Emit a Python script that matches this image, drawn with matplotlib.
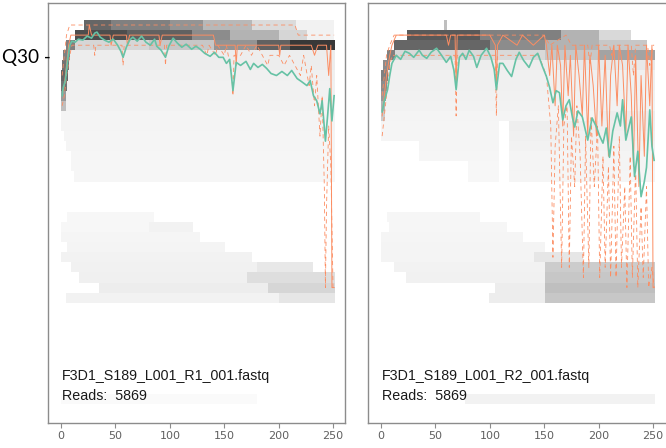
import matplotlib.pyplot as plt

# === DATA ===
FILES = ["F3D1_S189_L001_R1_001.fastq", "F3D1_S189_L001_R2_001.fastq"]
READS = [5869, 5869]
X_TICKS = [0, 50, 100, 150, 200, 250]

# heat tiles: (quality score, first cycle, last cycle, shade 0..1)
R1_TILES = [
    (38, 22, 45, 0.60), (38, 46, 100, 0.50), (38, 101, 130, 0.42), (38, 131, 175, 0.28),
    (38, 176, 215, 0.14), (38, 216, 250, 0.05),
    (37, 13, 60, 0.70), (37, 61, 120, 0.62), (37, 121, 155, 0.45), (37, 156, 200, 0.30),
    (37, 201, 226, 0.16), (37, 227, 250, 0.05),
    (36, 5, 12, 0.50), (36, 13, 80, 0.16), (36, 81, 140, 0.22), (36, 141, 180, 0.42),
    (36, 181, 210, 0.62), (36, 211, 251, 0.78),
    (35, 2, 8, 0.50), (35, 9, 251, 0.07),
    (34, 1, 7, 0.55), (34, 8, 251, 0.07),
    (33, 0, 6, 0.60), (33, 7, 251, 0.06),
    (32, 0, 5, 0.55), (32, 6, 251, 0.055),
    (31, 0, 4, 0.40), (31, 5, 251, 0.055),
    (30, 0, 4, 0.25), (30, 5, 251, 0.05),
    (29, 0, 251, 0.045), (28, 0, 251, 0.045), (27, 3, 251, 0.04), (26, 5, 251, 0.04),
    (25, 10, 251, 0.035), (24, 10, 251, 0.035), (23, 12, 251, 0.035),
    (19, 6, 85, 0.03),
    (18, 0, 80, 0.03), (18, 81, 121, 0.05),
    (17, 0, 127, 0.04),
    (16, 6, 150, 0.045),
    (15, 0, 175, 0.05),
    (14, 10, 180, 0.055), (14, 181, 231, 0.09),
    (13, 17, 170, 0.06), (13, 171, 251, 0.13),
    (12, 35, 190, 0.07), (12, 191, 251, 0.16),
    (11, 5, 200, 0.05), (11, 201, 251, 0.10),
    (1, 0, 180, 0.02),
]
R2_TILES = [
    (38, 58, 60, 0.25),
    (37, 24, 90, 0.65), (37, 91, 165, 0.50), (37, 166, 200, 0.30), (37, 201, 229, 0.15),
    (36, 12, 100, 0.60), (36, 101, 150, 0.45), (36, 151, 200, 0.30), (36, 201, 244, 0.22),
    (35, 6, 12, 0.50), (35, 13, 150, 0.15), (35, 151, 200, 0.22), (35, 201, 251, 0.36),
    (34, 2, 8, 0.45), (34, 9, 160, 0.07), (34, 161, 251, 0.09),
    (33, 0, 6, 0.50), (33, 7, 251, 0.06),
    (32, 0, 5, 0.45), (32, 6, 251, 0.06),
    (31, 0, 4, 0.40), (31, 5, 251, 0.055),
    (30, 0, 3, 0.30), (30, 4, 251, 0.05),
    (29, 0, 3, 0.20), (29, 4, 200, 0.045), (29, 201, 251, 0.07),
    (28, 0, 108, 0.04), (28, 118, 251, 0.065),
    (27, 0, 108, 0.04), (27, 118, 251, 0.06),
    (26, 35, 108, 0.04), (26, 118, 251, 0.05),
    (25, 35, 108, 0.035), (25, 118, 251, 0.045),
    (24, 80, 108, 0.03), (24, 118, 251, 0.045),
    (23, 80, 108, 0.03), (23, 118, 251, 0.04),
    (19, 6, 90, 0.035),
    (18, 8, 115, 0.035),
    (17, 0, 130, 0.04),
    (16, 0, 150, 0.045),
    (15, 0, 140, 0.045), (15, 141, 185, 0.10),
    (14, 12, 150, 0.05), (14, 151, 251, 0.20),
    (13, 23, 150, 0.055), (13, 151, 251, 0.22),
    (12, 105, 150, 0.07), (12, 151, 251, 0.25),
    (11, 100, 150, 0.07), (11, 151, 251, 0.22),
    (1, 78, 251, 0.05),
]

# R1 mean quality
R1_MEAN_C = [1, 2, 4, 6, 8, 10, 13, 16, 20, 24, 28, 31, 33, 36, 40, 44, 48, 52, 55, 57,
             60, 63, 66, 70, 74, 78, 82, 86, 88, 92, 96, 99, 103, 107, 111, 115, 120, 124,
             128, 132, 137, 141, 145, 149, 152, 155, 158, 161, 165, 170, 174, 177, 181,
             185, 189, 193, 198, 203, 208, 212, 217, 221, 226, 229, 232, 235, 238, 240,
             243, 245, 247, 249, 251]
R1_MEAN_Q = [31.0, 31.8, 32.5, 34.5, 36.0, 36.4, 36.3, 36.6, 36.5, 36.9, 36.7, 37.2, 37.3,
             36.8, 36.5, 36.3, 36.6, 36.0, 35.4, 34.8, 35.8, 36.5, 36.8, 36.4, 36.9, 36.3,
             36.0, 36.6, 35.9, 35.5, 34.8, 35.9, 36.7, 36.2, 35.8, 36.1, 35.6, 35.9, 35.6,
             35.2, 34.9, 35.3, 34.8, 34.8, 34.2, 34.6, 31.5, 34.3, 34.0, 34.4, 33.6, 34.2,
             33.8, 34.1, 33.7, 33.2, 33.0, 33.4, 33.0, 33.5, 32.7, 32.4, 32.0, 32.5, 31.0,
             30.5, 29.2, 30.5, 26.5, 29.0, 31.7, 28.5, 31.0]
# R1 median
R1_MED_C = [1, 3, 5, 7, 9, 25, 26, 28, 45, 46, 48, 60, 61, 63, 90, 91, 93, 140, 142, 160,
            161, 162, 200, 201, 202, 230, 233, 236, 238, 244, 246, 248, 249, 251]
R1_MED_Q = [31, 32, 34, 36, 37, 37, 38, 37, 37, 36, 37, 37, 36, 37, 37, 36, 37, 37, 36, 36,
            34, 36, 36, 35, 36, 36, 35, 36, 36, 36, 33, 36, 12, 12]
# R1 upper quartile
R1_Q75_C = [1, 3, 5, 8, 215, 218, 251]
R1_Q75_Q = [33, 35, 37, 38, 38, 37, 37]
# R1 lower quartile
R1_Q25_C = [1, 3, 5, 8, 10, 30, 31, 32, 56, 57, 58, 95, 96, 97, 130, 134, 136, 142, 144,
            150, 152, 157, 158, 159, 165, 170, 175, 180, 185, 190, 192, 200, 205, 210,
            215, 220, 223, 228, 230, 233, 235, 238, 240, 242, 243, 244, 246, 248, 250, 251]
R1_Q25_Q = [30, 31, 33, 35, 36, 36, 35, 36, 36, 34, 36, 36, 34, 36, 36, 35, 36, 35, 36,
            35, 36, 33, 31, 35, 35, 36, 35, 36, 35, 34, 35, 35, 34, 35, 34, 33, 35, 32, 34,
            30, 33, 27, 31, 22, 12, 20, 28, 24, 12, 12]

# R2 mean quality
R2_MEAN_C = [1, 3, 6, 8, 10, 14, 18, 22, 26, 30, 35, 38, 42, 46, 51, 55, 60, 64, 67, 69,
             72, 75, 78, 81, 85, 88, 92, 97, 101, 104, 106, 109, 112, 116, 120, 124, 127,
             131, 136, 140, 144, 148, 152, 155, 158, 161, 164, 167, 170, 173, 176, 178,
             181, 185, 188, 190, 194, 198, 201, 204, 207, 210, 213, 217, 220, 222, 225,
             228, 230, 233, 236, 239, 242, 244, 247, 249, 251]
R2_MEAN_Q = [29.4, 30.5, 31.6, 33.0, 34.2, 35.0, 34.6, 35.4, 35.2, 34.8, 35.5, 35.0, 34.7,
             35.3, 35.7, 35.1, 34.3, 34.9, 33.5, 31.6, 34.8, 35.2, 34.6, 35.5, 34.9, 33.8,
             35.0, 35.7, 34.8, 33.6, 31.6, 34.2, 34.2, 33.5, 32.9, 34.6, 35.3, 34.5, 33.8,
             34.8, 35.2, 34.0, 32.9, 31.8, 30.3, 31.5, 31.3, 28.6, 30.0, 30.6, 28.8, 27.9,
             29.5, 28.9, 27.5, 26.6, 28.8, 27.9, 27.0, 26.3, 27.8, 24.9, 27.5, 29.3, 28.0,
             30.6, 26.6, 28.0, 28.9, 23.0, 25.5, 21.0, 22.5, 23.9, 29.6, 26.0, 24.6]
# R2 median
R2_MED_C = [1, 3, 5, 8, 10, 14, 60, 62, 64, 68, 69, 70, 100, 105, 106, 107, 112, 125, 130,
            140, 150, 152, 155, 157, 160, 162, 165, 167, 169, 172, 174, 177, 179, 182, 185,
            187, 190, 192, 195, 198, 200, 203, 206, 209, 211, 214, 217, 219, 222, 225, 227,
            230, 232, 234, 237, 239, 242, 244, 247, 249, 250, 251]
R2_MED_Q = [29, 31, 33, 35, 36, 37, 37, 36, 37, 37, 32, 37, 37, 36, 32, 36, 37, 36, 37,
            36, 37, 36, 33, 36, 30, 36, 34, 28, 36, 31, 35, 27, 36, 33, 29, 36, 27, 35, 32,
            27, 36, 28, 35, 25, 33, 36, 30, 36, 34, 27, 36, 31, 24, 35, 22, 33, 25, 36, 30,
            36, 12, 12]
# R2 upper quartile
R2_Q75_C = [1, 3, 5, 8, 12, 150, 155, 170, 175, 190, 192, 194, 210, 212, 214, 230, 232,
            234, 245, 247, 250, 251]
R2_Q75_Q = [31, 33, 35, 36, 37, 37, 36, 37, 36, 36, 34, 36, 36, 35, 36, 36, 33, 36, 36,
            34, 36, 36]
# R2 lower quartile
R2_Q25_C = [1, 3, 5, 8, 10, 68, 69, 70, 105, 106, 107, 145, 152, 156, 158, 160, 163, 166,
            168, 171, 173, 175, 178, 180, 183, 186, 188, 191, 193, 196, 199, 201, 204, 206,
            209, 211, 214, 216, 219, 221, 224, 226, 229, 231, 234, 236, 239, 241, 244, 246,
            249, 251]
R2_Q25_Q = [27, 29, 31, 34, 35, 35, 29, 35, 35, 29, 35, 35, 33, 28, 15, 26, 30, 14, 28,
            30, 14, 27, 22, 30, 25, 13, 27, 14, 29, 22, 28, 13, 25, 14, 24, 13, 26, 13, 27,
            14, 22, 12, 25, 13, 24, 12, 20, 13, 22, 12, 14, 12]

GREEN = '#66C2A5'
ORANGE = '#FC8D62'
FRAME = '#8c8c8c'

W, H = 666, 448
fig = plt.figure(figsize=(W / 100, H / 100), dpi=100)


def add_axes_px(x0, y0, x1, y1):
    return fig.add_axes([x0 / W, 1 - y1 / H, (x1 - x0) / W, (y1 - y0) / H])


def draw_panel(ax, tiles, mean, med, q25, q75, fname, reads):
    # quality heat tiles
    for q, c0, c1, shade in tiles:
        g = 1 - shade
        ax.broken_barh([(c0 - 0.5, c1 - c0 + 1)], (q - 0.5, 1), facecolors=(g, g, g),
                       edgecolor='none')
    ax.plot(q75[0], q75[1], color=ORANGE, lw=0.6, dashes=(5, 4))
    ax.plot(q25[0], q25[1], color=ORANGE, lw=0.6, dashes=(5, 4))
    ax.plot(med[0], med[1], color=ORANGE, lw=0.7)
    ax.plot(mean[0], mean[1], color=GREEN, lw=1.2)

    ax.text(0.5, 2.85, fname, fontsize=10.3, family='Liberation Sans', color='#1a1a1a',
            ha='left', va='baseline')
    ax.text(0.5, 0.87, 'Reads:  %d' % reads, fontsize=10.3, family='Liberation Sans',
            color='#1a1a1a', ha='left', va='baseline')

    ax.set_xlim(-12, 261)
    ax.set_ylim(-1.41, 40.18)
    ax.set_xticks(X_TICKS)
    ax.set_yticks([])
    ax.tick_params(axis='x', length=3.5, width=0.8, color=FRAME, labelcolor='#606060',
                   labelsize=8, pad=2)
    for s in ax.spines.values():
        s.set_color(FRAME)
        s.set_linewidth(1.0)


ax1 = add_axes_px(48, 3, 345, 423)
ax2 = add_axes_px(368, 3, 665, 423)

draw_panel(ax1, R1_TILES, (R1_MEAN_C, R1_MEAN_Q), (R1_MED_C, R1_MED_Q),
           (R1_Q25_C, R1_Q25_Q), (R1_Q75_C, R1_Q75_Q), FILES[0], READS[0])
draw_panel(ax2, R2_TILES, (R2_MEAN_C, R2_MEAN_Q), (R2_MED_C, R2_MED_Q),
           (R2_Q25_C, R2_Q25_Q), (R2_Q75_C, R2_Q75_Q), FILES[1], READS[1])
ax2.spines['right'].set_visible(False)

# hand-added Q30 marker on the left
fig.text(51 / W, 1 - 57 / H, 'Q30 -', ha='right', va='center', fontsize=13.6,
         family='Lato', color='black')

fig.savefig('out.png', dpi=100, facecolor='white')
